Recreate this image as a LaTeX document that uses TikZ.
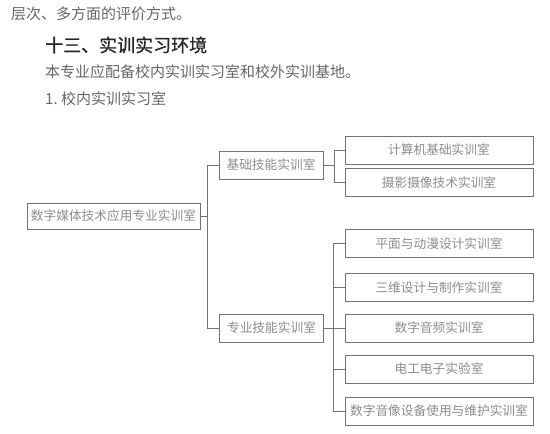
\documentclass[tikz,border=0pt]{standalone}
\usepackage{fontspec}
\setmainfont{Noto Sans CJK SC}
\newfontfamily\headfont[FakeBold=0.8]{Noto Sans CJK SC}

\begin{document}
\begin{tikzpicture}[x=1pt,y=-1pt,
 room/.style={draw=black!55,line width=0.7pt,text=black!45,font=\fontsize{12.7}{14}\selectfont,inner sep=0pt,minimum height=28pt},
 wide/.style={room,minimum width=188pt},
 mid/.style={room,minimum width=104pt},
 link/.style={draw=black!55,line width=0.7pt},
 line/.style={anchor=west,inner sep=0pt,text=black!60,font=\fontsize{15}{17}\selectfont}]
 \useasboundingbox (0,0) rectangle (550,434);
 \node[line] (t1) at (11,14) {层次、多方面的评价方式。};
 \node[line,text=black!85,font=\headfont\fontsize{18}{20}\selectfont] (t2) at (45,45) {十三、实训实习环境};
 \node[line] (t3) at (45,72) {本专业应配备校内实训实习室和校外实训基地。};
 \node[line] (t4) at (45,99) {1.\ 校内实训实习室};
 % tree of rooms
 \node[room,minimum width=173pt,minimum height=26pt] (root) at (113.5,216) {数字媒体技术应用专业实训室};
 \node[mid] (jc) at (271,165) {基础技能实训室};
 \node[mid] (zy) at (271.5,328) {专业技能实训室};
 \node[wide] (c1) at (439,150) {计算机基础实训室};
 \node[wide] (c2) at (439,182.5) {摄影摄像技术实训室};
 \node[wide] (d1) at (439,243.5) {平面与动漫设计实训室};
 \node[wide] (d2) at (439,287.5) {三维设计与制作实训室};
 \node[wide] (d3) at (439,328) {数字音频实训室};
 \node[wide] (d4) at (439,369) {电工电子实验室};
 \node[wide] (d5) at (439,411) {数字音像设备使用与维护实训室};
 \coordinate (rj) at ([xshift=-11pt]jc.west);
 \draw[link] (root.east) -- (rj |- root.east);
 \draw[link] (jc.west) -- (rj) |- (zy.west);
 \draw[link] (jc.east) -- +(12,0);
 \draw[link] (c1.west) -- +(-10,0) |- (c2.west);
 \draw[link] (zy.east) -- (d3.west);
 \draw[link] (d1.west) -- +(-11,0) |- (d5.west);
 \foreach \n in {d2,d4} \draw[link] (\n.west) -- +(-11,0);
\end{tikzpicture}
\end{document}
